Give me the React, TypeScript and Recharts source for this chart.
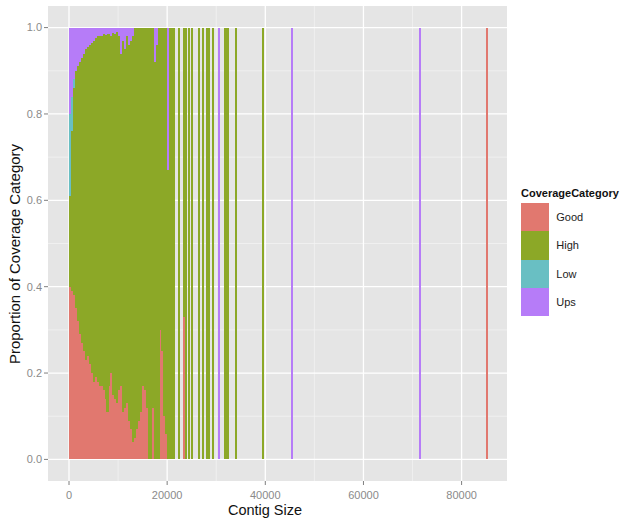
import React from "react";
import { BarChart, Bar, XAxis, YAxis, CartesianGrid } from "recharts";

// Contig sizes (x positions of bars)
const contigSizes = [
  200, 600, 1000, 1400, 1800, 2200, 2600, 3000, 3400, 3800,
  4200, 4600, 5000, 5400, 5800, 6200, 6600, 7000, 7400, 7800,
  8200, 8600, 9000, 9400, 9800, 10200, 10600, 11000, 11400, 11800,
  12200, 12600, 13000, 13400, 13800, 14200, 14600, 15000, 15400, 15800,
  16200, 16600, 17000, 17400, 17800, 18200, 18600, 19000, 19400, 19800,
  20200, 20600, 21000,
  21400, 22400, 23450, 23850, 24450, 25050, 26350, 27250, 28000, 28500,
  29300, 30500, 31700, 32250, 34050, 39550, 45450, 71400, 85100,
];

const goodProp = [
  0.4, 0.39, 0.38, 0.35, 0.32, 0.29, 0.27, 0.25, 0.23, 0.24,
  0.22, 0.2, 0.18, 0.19, 0.18, 0.17, 0.17, 0.16, 0.14, 0.11,
  0.17, 0.2, 0.15, 0.14, 0.13, 0.16, 0.17, 0.11, 0.12, 0.13,
  0.09, 0.07, 0.04, 0.05, 0.07, 0.09, 0.11, 0.17, 0.16, 0.12,
  0, 0, 0.12, 0, 0, 0, 0.3, 0.25, 0.1, 0.06,
  0, 0, 0,
  0, 0, 0.33, 0, 0, 0, 0, 0, 0, 0,
  0, 0, 0, 0, 0, 0, 0, 0, 1,
];

const highProp = [
  0.21, 0.37, 0.48, 0.55, 0.59, 0.63, 0.66, 0.69, 0.72, 0.715,
  0.74, 0.765, 0.79, 0.785, 0.8, 0.81, 0.81, 0.825, 0.842, 0.875,
  0.815, 0.78, 0.838, 0.845, 0.86, 0.82, 0.77, 0.86, 0.83, 0.85,
  0.87, 0.9, 0.94, 0.95, 0.93, 0.91, 0.89, 0.83, 0.84, 0.88,
  1, 1, 0.88, 0.92, 0.96, 1, 0.7, 0.75, 0.9, 0.94,
  0.67, 1, 1,
  1, 1, 0.67, 1, 1, 1, 1, 1, 1, 1,
  1, 0, 1, 1, 1, 1, 0, 0, 0,
];

const lowProp = [
  0.19, 0.08, 0.02, 0, 0, 0, 0, 0, 0, 0,
  0, 0, 0, 0, 0, 0, 0, 0, 0, 0,
  0, 0, 0, 0, 0, 0, 0, 0, 0, 0,
  0, 0, 0, 0, 0, 0, 0, 0, 0, 0,
  0, 0, 0, 0, 0, 0, 0, 0, 0, 0,
  0, 0, 0,
  0, 0, 0, 0, 0, 0, 0, 0, 0, 0,
  0, 0, 0, 0, 0, 0, 0, 0, 0,
];

const upsProp = [
  0.2, 0.16, 0.12, 0.1, 0.09, 0.08, 0.07, 0.06, 0.05, 0.045,
  0.04, 0.035, 0.03, 0.025, 0.02, 0.02, 0.02, 0.015, 0.018, 0.015,
  0.015, 0.02, 0.012, 0.015, 0.01, 0.02, 0.06, 0.03, 0.05, 0.02,
  0.04, 0.03, 0.02, 0, 0, 0, 0, 0, 0, 0,
  0, 0, 0, 0.08, 0.04, 0, 0, 0, 0, 0,
  0.33, 0, 0,
  0, 0, 0, 0, 0, 0, 0, 0, 0, 0,
  0, 1, 0, 0, 0, 0, 1, 1, 0,
];

const categories = ["Good", "High", "Low", "Ups"];
const categoryKeys = ["good", "high", "low", "ups"];
const categoryColors = ["#E1786F", "#8CA827", "#69BFC3", "#B67CF8"];

const xTicks = [0, 20000, 40000, 60000, 80000];
const xMinor = [10000, 30000, 50000, 70000];
const yTicks = [0, 0.2, 0.4, 0.6, 0.8, 1.0];
const yMinor = [0.1, 0.3, 0.5, 0.7, 0.9];

const data = contigSizes.map((size, i) => ({
  size,
  good: goodProp[i],
  high: highProp[i],
  low: lowProp[i],
  ups: upsProp[i],
}));

const FONT = "'Liberation Sans', Arial, Helvetica, sans-serif";
const BAR_W = 2.05;

const ThinBar = (props: any) => {
  const { x, y, width, height, fill } = props;
  if (!height || height <= 0 || x == null) return null;
  const cx = x + width / 2;
  return (
    <rect
      x={cx - BAR_W / 2}
      y={y}
      width={BAR_W}
      height={height}
      fill={fill}
      shapeRendering="crispEdges"
    />
  );
};

export default function App() {
  return (
    <div
      style={{
        position: "absolute",
        left: 0,
        top: 0,
        width: 630,
        height: 523,
        background: "#ffffff",
        fontFamily: FONT,
      }}
    >
      <BarChart
        width={630}
        height={523}
        data={data}
        margin={{ top: 6, right: 123, left: 0, bottom: 0 }}
        barGap={0}
      >
        <CartesianGrid
          fill="#E5E5E5"
          stroke="#F2F2F2"
          strokeWidth={0.8}
          horizontalValues={yMinor}
          verticalValues={xMinor}
        />
        <CartesianGrid
          fillOpacity={0}
          stroke="#FFFFFF"
          strokeWidth={1.3}
          horizontalValues={yTicks}
          verticalValues={xTicks}
        />
        <XAxis
          type="number"
          dataKey="size"
          domain={[-4280, 89250]}
          allowDataOverflow
          ticks={xTicks}
          interval={0}
          height={42}
          axisLine={false}
          tickLine={{ stroke: "#7F7F7F" }}
          tickSize={4}
          tickMargin={6}
          tick={{ fill: "#8A8A8A", fontSize: 11, fontFamily: FONT }}
        />
        <YAxis
          type="number"
          domain={[-0.05, 1.05]}
          allowDataOverflow
          ticks={yTicks}
          interval={0}
          width={48}
          axisLine={false}
          tickLine={{ stroke: "#7F7F7F" }}
          tickSize={4}
          tickMargin={2}
          tickFormatter={(v: number) => v.toFixed(1)}
          tick={{ fill: "#8A8A8A", fontSize: 11, fontFamily: FONT }}
        />
        {categoryKeys.map((k, i) => (
          <Bar
            key={k}
            dataKey={k}
            name={categories[i]}
            stackId="cov"
            fill={categoryColors[i]}
            shape={ThinBar}
            isAnimationActive={false}
          />
        ))}
      </BarChart>
      <svg
        width={630}
        height={523}
        style={{ position: "absolute", left: 0, top: 0, pointerEvents: "none" }}
      >
        <text
          x={265}
          y={515}
          textAnchor="middle"
          fontSize={14.5}
          fontFamily={FONT}
          fill="#111"
        >
          Contig Size
        </text>
        <text
          transform="translate(20,254) rotate(-90)"
          textAnchor="middle"
          fontSize={15}
          fontFamily={FONT}
          fill="#111"
        >
          Proportion of Coverage Category
        </text>
      </svg>
      <div
        style={{
          position: "absolute",
          left: 521,
          top: 187,
          fontFamily: FONT,
          color: "#111",
        }}
      >
        <div style={{ fontSize: 11, fontWeight: "bold", lineHeight: "13px", height: 16 }}>
          CoverageCategory
        </div>
        {categories.map((c, i) => (
          <div
            key={c}
            style={{ display: "flex", alignItems: "center", height: 28.3 }}
          >
            <div
              style={{
                width: 28.3,
                height: 28.3,
                background: categoryColors[i],
              }}
            />
            <span style={{ fontSize: 11, marginLeft: 7, color: "#222" }}>{c}</span>
          </div>
        ))}
      </div>
    </div>
  );
}
